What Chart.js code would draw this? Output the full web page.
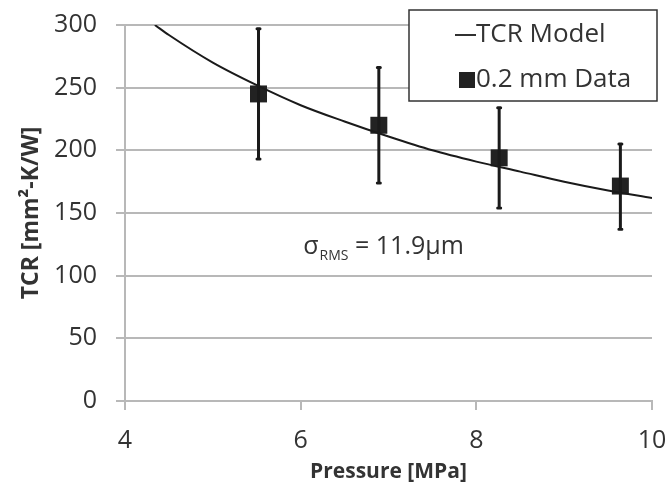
<!DOCTYPE html>
<html>
<head>
<meta charset="utf-8">
<script src="https://cdn.jsdelivr.net/npm/chart.js@4/dist/chart.umd.min.js"></script>
<style>
  body { margin: 0; background: #fff; }
  #wrap { width: 672px; height: 494px; }
</style>
</head>
<body>
<div id="wrap"><canvas id="chart"></canvas></div>
<script>
"use strict";

// measured points with error bars
const pressure = [5.52, 6.89, 8.26, 9.64];
const tcrData = [245, 220, 194, 171.5];
const errLow = [193, 174, 154, 137];
const errHigh = [297, 266, 234, 205];

// model curve
const modelP = [4.34, 4.5, 5, 5.5, 6, 6.5, 7, 7.5, 8, 8.5, 9, 9.5, 10];
const modelTCR = [300, 292, 270, 252, 236, 223, 211, 200, 191, 183, 175, 168, 162];

const yTicks = [0, 50, 100, 150, 200, 250, 300];
const xTicks = [4, 6, 8, 10];

const textColor = "#333";
const gridColor = "#b8b8b8";
const fontFam = "'Open Sans', sans-serif";

const errorBars = {
  id: "errorBars",
  afterDatasetsDraw(chart) {
    const { ctx, scales } = chart;
    ctx.save();
    ctx.strokeStyle = "#1a1a1a";
    ctx.lineWidth = 3;
    ctx.lineCap = "round";
    pressure.forEach((p, i) => {
      const x = scales.x.getPixelForValue(p);
      const y1 = scales.y.getPixelForValue(errLow[i]);
      const y2 = scales.y.getPixelForValue(errHigh[i]);
      ctx.beginPath();
      ctx.moveTo(x, y1);
      ctx.lineTo(x, y2);
      ctx.moveTo(x - 1.5, y1);
      ctx.lineTo(x + 1.5, y1);
      ctx.moveTo(x - 1.5, y2);
      ctx.lineTo(x + 1.5, y2);
      ctx.stroke();
    });
    ctx.restore();
  },
};

// sigma annotation and boxed legend
const extras = {
  id: "extras",
  afterDraw(chart) {
    const { ctx, scales } = chart;
    ctx.save();
    ctx.fillStyle = textColor;
    ctx.textBaseline = "alphabetic";
    ctx.textAlign = "left";
    let x = scales.x.getPixelForValue(6.03);
    const y = scales.y.getPixelForValue(117);
    ctx.font = "25px " + fontFam;
    ctx.fillText("σ", x, y);
    x += ctx.measureText("σ").width + 1;
    ctx.font = "14px " + fontFam;
    ctx.fillText("RMS", x, y + 6);
    x += ctx.measureText("RMS").width;
    ctx.font = "25px " + fontFam;
    ctx.fillText(" = 11.9µm", x, y);

    // legend box
    const bx = 409, by = 10, bw = 248, bh = 91;
    ctx.fillStyle = "#fff";
    ctx.fillRect(bx, by, bw, bh);
    ctx.strokeStyle = "#333";
    ctx.lineWidth = 1.5;
    ctx.strokeRect(bx, by, bw, bh);

    ctx.fillStyle = textColor;
    ctx.font = "26px " + fontFam;
    ctx.textBaseline = "middle";
    ctx.strokeStyle = "#1a1a1a";
    ctx.lineWidth = 1.8;
    ctx.beginPath();
    ctx.moveTo(455, 35);
    ctx.lineTo(476, 35);
    ctx.stroke();
    ctx.fillText(chart.data.datasets[0].label, 476, 35);

    ctx.fillStyle = "#222";
    ctx.fillRect(459, 72, 16, 16);
    ctx.fillStyle = textColor;
    ctx.fillText(chart.data.datasets[1].label, 476, 80);
    ctx.restore();
  },
};

new Chart(document.getElementById("chart"), {
  type: "scatter",
  data: {
    datasets: [
      {
        label: "TCR Model",
        data: modelP.map((p, i) => ({ x: p, y: modelTCR[i] })),
        showLine: true,
        borderColor: "#1a1a1a",
        borderWidth: 2,
        pointRadius: 0,
        cubicInterpolationMode: "monotone",
      },
      {
        label: "0.2 mm Data",
        data: pressure.map((p, i) => ({ x: p, y: tcrData[i] })),
        showLine: false,
        pointStyle: "rect",
        pointRadius: 12,
        backgroundColor: "#222",
        borderColor: "#222",
        borderWidth: 0,
      },
    ],
  },
  options: {
    responsive: true,
    maintainAspectRatio: false,
    animation: false,
    devicePixelRatio: 1,
    layout: { padding: { top: 25, right: 20, left: 0, bottom: 0 } },
    plugins: {
      legend: { display: false },
      tooltip: { enabled: false },
    },
    scales: {
      x: {
        type: "linear",
        min: 4,
        max: 10,
        afterBuildTicks: (s) => { s.ticks = xTicks.map((v) => ({ value: v })); },
        afterFit: (s) => { s.height = 93; s.paddingLeft = 0; s.paddingRight = 0; },
        ticks: { color: textColor, font: { family: fontFam, size: 25 }, padding: 16 },
        grid: { drawOnChartArea: false, drawTicks: true, tickLength: 9, color: gridColor, lineWidth: 2 },
        border: { color: gridColor, width: 2 },
        title: {
          display: true,
          text: "Pressure [MPa]",
          color: textColor,
          font: { family: fontFam, size: 21, weight: "bold" },
          padding: { top: 0, bottom: 9 },
        },
      },
      y: {
        type: "linear",
        min: 0,
        max: 300,
        afterBuildTicks: (s) => { s.ticks = yTicks.map((v) => ({ value: v })); },
        afterFit: (s) => { s.width = 125; s.paddingTop = 0; s.paddingBottom = 0; },
        ticks: { color: textColor, font: { family: fontFam, size: 25 }, padding: 19 },
        grid: { color: gridColor, lineWidth: 2, tickLength: 9 },
        border: { color: gridColor, width: 2 },
        title: {
          display: true,
          text: "TCR [mm²-K/W]",
          color: textColor,
          font: { family: fontFam, size: 23, weight: "bold" },
          padding: { top: 18, bottom: 0 },
        },
      },
    },
  },
  plugins: [errorBars, extras],
});
</script>
</body>
</html>
